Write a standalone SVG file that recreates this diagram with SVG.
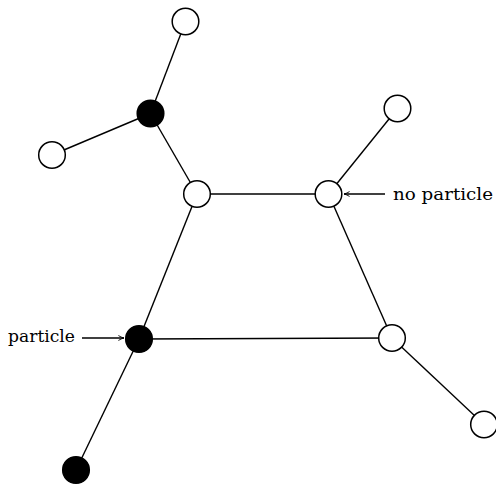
<svg xmlns="http://www.w3.org/2000/svg" width="496" height="486" viewBox="0 0 496 486">
<style>
.e{stroke:#000;stroke-width:1.4;fill:none}
.w{fill:#fff;stroke:#000;stroke-width:1.5}
.b{fill:#000;stroke:#000;stroke-width:1.5}
.t{font-family:"DejaVu Serif","Liberation Serif",serif;font-size:16.5px;fill:#000}
</style>
<defs>
<marker id="ah" viewBox="0 0 10 10" refX="9" refY="5" markerWidth="7" markerHeight="7" markerUnits="userSpaceOnUse" orient="auto">
<path d="M1,1.5 Q5,4 9,5 Q5,6 1,8.5" fill="none" stroke="#000" stroke-width="1.3"/>
</marker>
</defs>
<g id="connectors">
<line class="e" x1="185.5" y1="21.5" x2="150.5" y2="113.5"/>
<line class="e" x1="150.5" y1="113.5" x2="52" y2="155"/>
<line class="e" x1="150.5" y1="113.5" x2="197" y2="194"/>
<line class="e" x1="197" y1="194" x2="328.5" y2="194"/>
<line class="e" x1="328.5" y1="194" x2="397.5" y2="108.5"/>
<line class="e" x1="328.5" y1="194" x2="392" y2="338"/>
<line class="e" x1="197" y1="194" x2="139" y2="339"/>
<line class="e" x1="139" y1="339" x2="392" y2="338"/>
<line class="e" x1="392" y1="338" x2="484" y2="424.5"/>
<line class="e" x1="139" y1="339" x2="76" y2="470"/>
<line class="e" x1="385" y1="194" x2="344" y2="194" marker-end="url(#ah)"/>
<line class="e" x1="82" y1="338" x2="124" y2="338" marker-end="url(#ah)"/>
</g>
<g id="n1"><circle class="w" cx="185.5" cy="21.5" r="13.3"/></g>
<g id="n2"><circle class="b" cx="150.5" cy="113.5" r="13.3"/></g>
<g id="n3"><circle class="w" cx="52" cy="155" r="13.3"/></g>
<g id="n4"><circle class="w" cx="197" cy="194" r="13.3"/></g>
<g id="n5"><circle class="w" cx="328.5" cy="194" r="13.3"/></g>
<g id="n6"><circle class="w" cx="397.5" cy="108.5" r="13.3"/></g>
<g id="n7"><circle class="b" cx="139" cy="339" r="13.3"/></g>
<g id="n8"><circle class="w" cx="392" cy="338" r="13.3"/></g>
<g id="n9"><circle class="w" cx="484" cy="424.5" r="13.3"/></g>
<g id="n10"><circle class="b" cx="76" cy="470" r="13.3"/></g>
<g id="label-no-particle"><text class="t" x="393" y="200" textLength="100" lengthAdjust="spacingAndGlyphs">no particle</text></g>
<g id="label-particle"><text class="t" x="8" y="342" textLength="67" lengthAdjust="spacingAndGlyphs">particle</text></g>
</svg>
